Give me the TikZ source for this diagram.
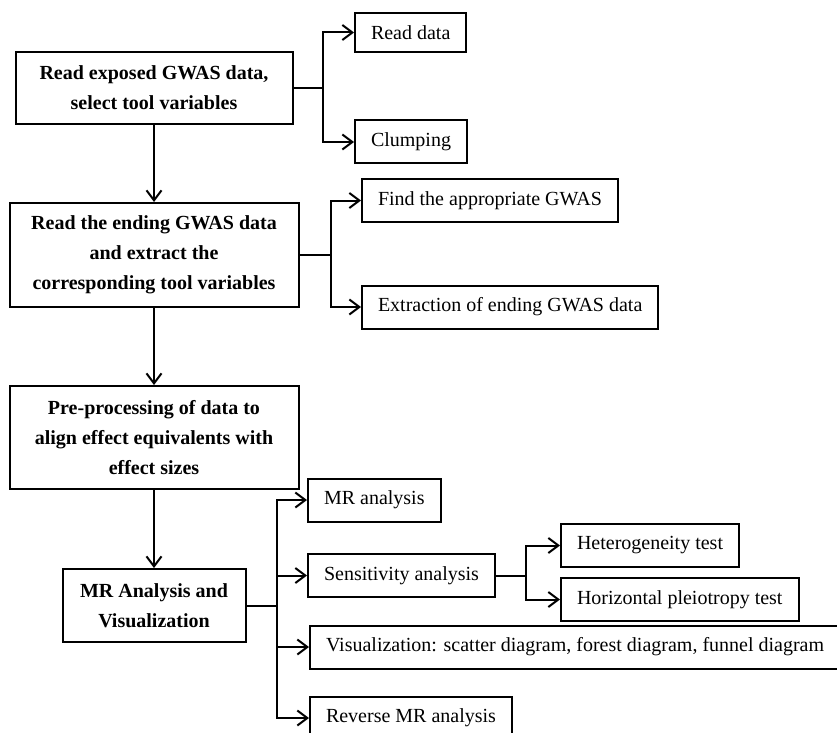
\documentclass[tikz,border=0pt]{standalone}
\usepackage{fontspec}
\setmainfont{Liberation Serif}
\usetikzlibrary{arrows.meta}

\begin{document}
\begin{tikzpicture}[x=0.6pt,y=-0.6pt,line width=1.2pt,
    font=\fontsize{12pt}{18pt}\selectfont,
    mainbox/.style={draw,align=center,inner sep=0pt,font=\fontsize{12pt}{18pt}\selectfont\bfseries},
    subbox/.style={draw,anchor=west,inner xsep=9.6pt,inner ysep=0pt,minimum height=25.8pt},
    arr/.style={-{Straight Barb[length=6pt,width=9pt]}}]
  \useasboundingbox (0,0) rectangle (837,733);
  % main steps
  \node[mainbox,minimum width=166.2pt,minimum height=43.2pt] (expo) at (154,88) {Read exposed GWAS data,\\select tool variables};
  \node[mainbox,minimum width=173.4pt,minimum height=62.4pt] (ending) at (154,255) {Read the ending GWAS data\\and extract the\\corresponding tool variables};
  \node[mainbox,minimum width=173.4pt,minimum height=61.8pt] (prep) at (154,437.5) {Pre-processing of data to\\align effect equivalents with\\effect sizes};
  \node[mainbox,minimum width=109.8pt,minimum height=43.8pt] (mrvis) at (154,605.5) {MR Analysis and\\Visualization};
  % sub steps
  \node[subbox,minimum height=23.4pt] (read) at (354,32.5) {Read data};
  \node[subbox] (clump) at (354,142) {Clumping};
  \node[subbox] (find) at (361,200.5) {Find the appropriate GWAS};
  \node[subbox] (extr) at (361,307) {Extraction of ending GWAS data};
  \node[subbox] (mr) at (307,500) {MR analysis};
  \node[subbox] (sens) at (307,575.5) {Sensitivity analysis};
  \node[subbox] (het) at (560,545.5) {Heterogeneity test};
  \node[subbox] (hor) at (560,599.5) {Horizontal pleiotropy test};
  \node[subbox] (vis) at (309,647) {Visualization: scatter diagram, forest diagram, funnel diagram};
  \node[subbox] (rev) at (309,718) {Reverse MR analysis};
  % main flow
  \draw[arr] (expo) -- (ending);
  \draw[arr] (ending) -- (prep);
  \draw[arr] (prep) -- (mrvis);
  % branches
  \draw (expo.east) -- ++(29,0) coordinate (j1);
  \draw[arr] (j1) |- (read.west);
  \draw[arr] (j1) |- (clump.west);
  \draw (ending.east) -- ++(31,0) coordinate (j2);
  \draw[arr] (j2) |- (find.west);
  \draw[arr] (j2) |- (extr.west);
  \draw (mrvis.east) -- ++(30,0) coordinate (j3);
  \draw[arr] (j3) |- (mr.west);
  \draw[arr] (j3) |- (sens.west);
  \draw[arr] (j3) |- (vis.west);
  \draw[arr] (j3) |- (rev.west);
  \draw (sens.east) -- ++(30,0) coordinate (j4);
  \draw[arr] (j4) |- (het.west);
  \draw[arr] (j4) |- (hor.west);
\end{tikzpicture}
\end{document}
